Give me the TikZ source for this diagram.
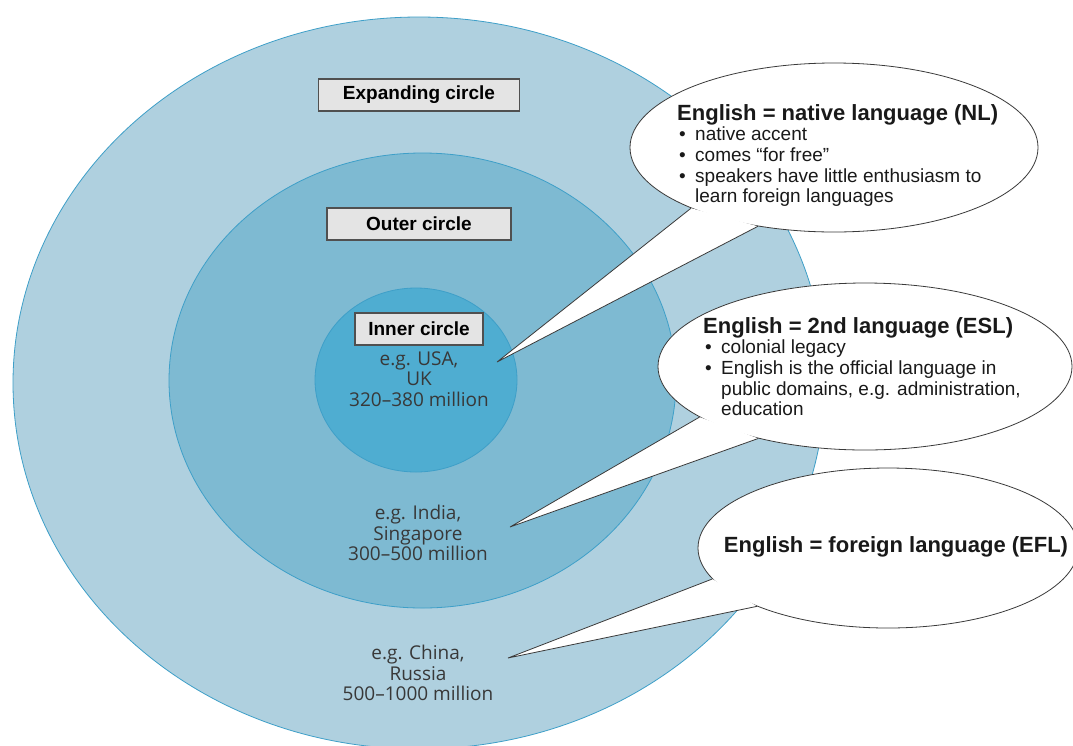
\documentclass[tikz,border=0pt]{standalone}
\usepackage{fontspec}
\setmainfont{Liberation Sans}
\newfontfamily\ringfont[Ligatures=TeX]{Open Sans}
\usetikzlibrary{shapes.geometric}

\definecolor{ringout}{HTML}{AFD0DF}
\definecolor{ringmid}{HTML}{7EBAD2}
\definecolor{ringin}{HTML}{4FADD1}
\definecolor{ringline}{HTML}{3E9FC8}
\definecolor{ringtxt}{HTML}{383838}
\definecolor{boxfill}{HTML}{E4E4E4}
\definecolor{boxline}{HTML}{505050}
\definecolor{bubline}{HTML}{3A3A3A}

\tikzset{
  ring/.style={ellipse, draw=ringline, line width=0.8pt, inner sep=0pt},
  namebox/.style={draw=boxline, fill=boxfill, line width=1.2pt, minimum height=32pt,
    inner sep=0pt, font=\fontsize{19}{21}\selectfont\bfseries},
  ringtext/.style={align=center, text=ringtxt, inner sep=0pt,
    font=\ringfont\fontsize{19}{20.5}\selectfont},
  bubble/.style={ellipse, draw=bubline, fill=white, line width=0.8pt, inner sep=0pt},
  pointer/.style={draw=bubline, line width=0.8pt, line join=miter},
  bubtext/.style={align=left, anchor=north west, inner sep=0pt, text=black!90,
    font=\fontsize{19}{20.7}\selectfont},
}
\newcommand{\bhead}[1]{{\fontsize{22}{20.7}\selectfont\bfseries #1}}
\newcommand{\bitem}{\hspace*{2pt}\makebox[16pt][l]{\textbullet}}
\newcommand{\bcont}{\hspace*{18pt}}

\begin{document}
\begin{tikzpicture}[x=1pt,y=-1pt]
\fill[white] (0,0) rectangle (1073,745);
\useasboundingbox (0,0) rectangle (1073,745);

\node[ring, fill=ringout, minimum width=812pt, minimum height=732pt] (expanding) at (419,383) {};
\node[ring, fill=ringmid, minimum width=507pt, minimum height=455pt] (outer) at (422.5,380.5) {};
\node[ring, fill=ringin, minimum width=202pt, minimum height=184pt] (inner) at (416,380) {};

\node[namebox, minimum width=201pt] (expbox) at (419,95) {Expanding circle};
\node[namebox, minimum width=184pt] (outbox) at (419,224) {Outer circle};
\node[namebox, minimum width=128pt] (inbox) at (419,329) {Inner circle};

\node[ringtext] (intext) at (419,379) {e.g. USA,\\UK\\320--380 million};
\node[ringtext] (outtext) at (418,533) {e.g. India,\\Singapore\\300--500 million};
\node[ringtext] (exptext) at (418,673) {e.g. China,\\Russia\\500--1000 million};

\coordinate (nltip) at (497,362);
\coordinate (esltip) at (510,527);
\coordinate (efltip) at (508,658);

\node[bubble, minimum width=408pt, minimum height=169pt] (nl) at (834,147.5) {};
\fill[white] (nl.203.2) -- (nltip) -- (nl.226.3) -- cycle;
\draw[pointer] (nl.203.2) -- (nltip) -- (nl.226.3);
\node[bubtext] (nltext) at (677,104) {\bhead{English = native language (NL)}\\
  \bitem native accent\\
  \bitem comes “for free”\\
  \bitem speakers have little enthusiasm to\\
  \bcont learn foreign languages};

\node[bubble, minimum width=414pt, minimum height=167pt] (esl) at (865,366.5) {};
\fill[white] (esl.197) -- (esltip) -- (esl.214.2) -- cycle;
\draw[pointer] (esl.197) -- (esltip) -- (esl.214.2);
\node[bubtext] (esltext) at (703,317) {\bhead{English = 2nd language (ESL)}\\
  \bitem colonial legacy\\
  \bitem English is the official language in\\
  \bcont public domains, e.g. administration,\\
  \bcont education};

\node[bubble, minimum width=380pt, minimum height=160pt] (efl) at (888,548) {};
\fill[white] (efl.190.6) -- (efltip) -- (efl.204.2) -- cycle;
\draw[pointer] (efl.190.6) -- (efltip) -- (efl.204.2);
\node[inner sep=0pt, text=black!90, font=\fontsize{22}{24}\selectfont\bfseries] (efltext) at (896,547) {English = foreign language (EFL)};
\end{tikzpicture}
\end{document}
